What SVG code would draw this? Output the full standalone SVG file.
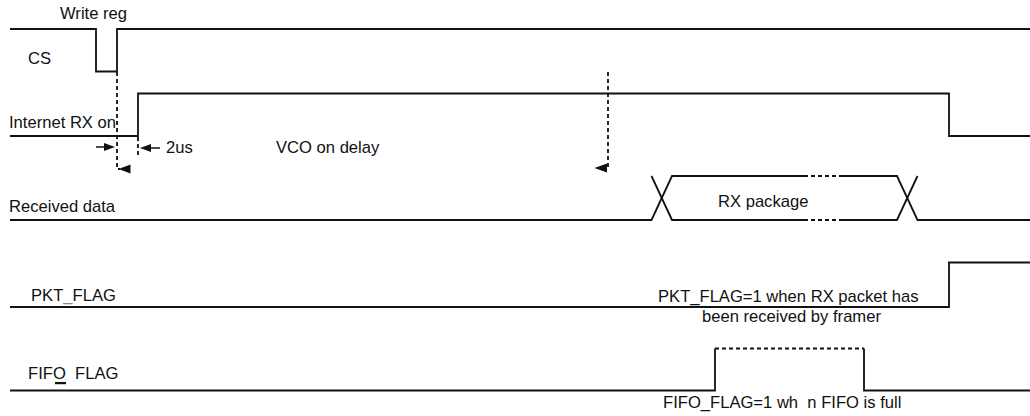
<svg xmlns="http://www.w3.org/2000/svg" width="1030" height="416" viewBox="0 0 1030 416">
<style>
text{font-family:"Liberation Sans",Arial,sans-serif;font-size:16.6px;fill:#111;}
.sig{fill:none;stroke:#111;stroke-width:1.8;}
.dash{fill:none;stroke:#111;stroke-width:1.8;stroke-dasharray:4 3;}
.thin{fill:none;stroke:#111;stroke-width:1.5;}
.ah{fill:#111;}
</style>
<rect width="1030" height="416" fill="#fff"/>
<g id="cs">
<path class="sig" d="M10,29 H96 V71.5 H117 V29 H1030"/>
<text x="60" y="19">Write reg</text>
<text x="28" y="64">CS</text>
</g>
<g id="rx-on">
<path class="sig" d="M10,136 H138 V93.5 H949 V136 H1030"/>
<text x="9" y="128">Internet RX on</text>
</g>
<g id="received-data">
<path class="sig" d="M10,220 H651.5 L672,176 H804 M843,176 H897 L917.5,220 H1030"/>
<path class="sig" d="M651.5,176 L672,220 H804 M843,220 H897 L917.5,176"/>
<path class="dash" d="M804,176 H843 M804,220 H843"/>
<text x="9" y="211.5">Received data</text>
<text x="718" y="207">RX package</text>
</g>
<g id="pkt-flag">
<path class="sig" d="M10,307 H949 V262.5 H1030"/>
<text x="31" y="301">PKT<tspan fill="#888">_</tspan>FLAG</text>
<text x="658" y="302">PKT_FLAG=1 when RX packet has</text>
<text x="702" y="322">been received by framer</text>
</g>
<g id="fifo-flag">
<path class="sig" d="M10,390.5 H715 V348.5 M864,348.5 V390.5 H1030"/>
<path class="dash" d="M715,348.5 H864"/>
<text x="28" y="379" xml:space="preserve">FIFO  FLAG</text>
<rect x="55" y="382" width="11" height="2.2" fill="#111"/>
<text x="663" y="408" xml:space="preserve">FIFO_FLAG=1 wh  n FIFO is full</text>
</g>
<g id="connectors">
<path class="dash" d="M117,72 V169 H120"/>
<polygon class="ah" points="118.5,169 130.5,164.5 130.5,173.5"/>
<path class="dash" d="M608,72 V168 H604"/>
<polygon class="ah" points="594.5,168 607,163.5 607,172.5"/>
<path class="dash" d="M138,137 V157"/>
<path class="thin" d="M96,147 H106"/>
<polygon class="ah" points="115,147 104,143 104,151"/>
<path class="thin" d="M150,148 H160"/>
<polygon class="ah" points="140,148 151,144 151,152"/>
<text x="166" y="153">2us</text>
<text x="276" y="153">VCO on delay</text>
</g>
</svg>
